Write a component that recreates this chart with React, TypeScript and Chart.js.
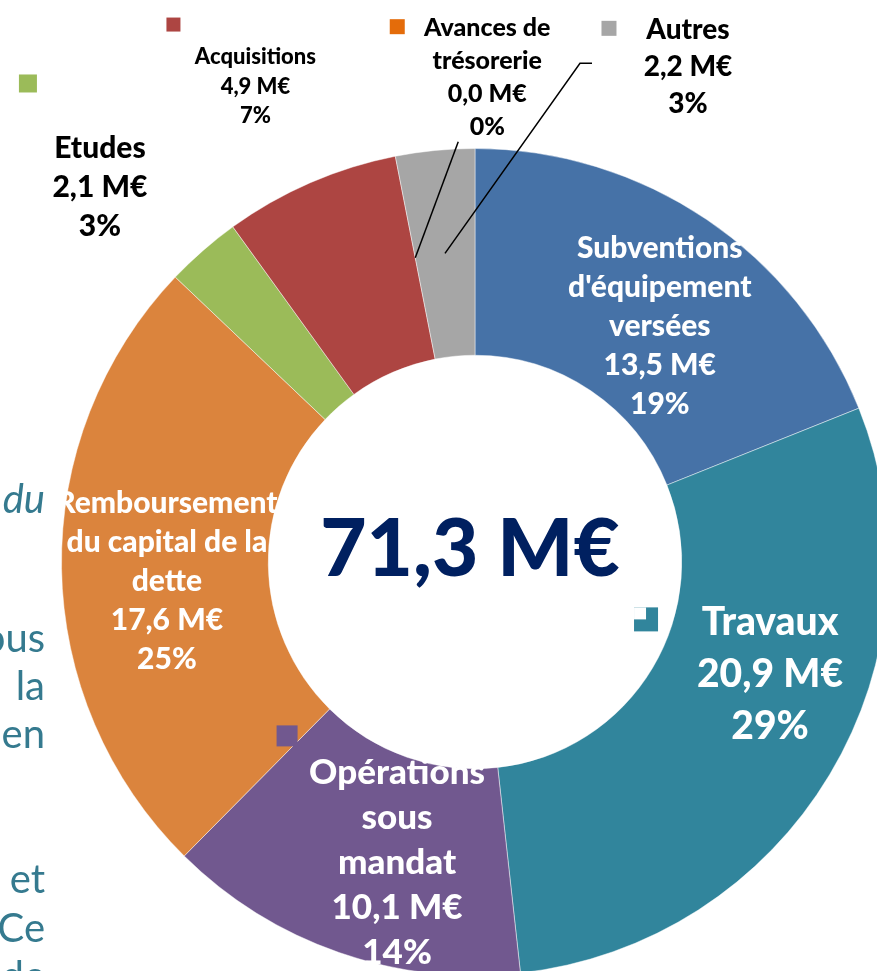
import React, { useEffect, useRef } from "react";
import { Chart, registerables } from "chart.js";

Chart.register(...registerables);

// ---- Data ----
const categories = [
  "Subventions d'équipement versées",
  "Travaux",
  "Opérations sous mandat",
  "Remboursement du capital de la dette",
  "Etudes",
  "Acquisitions",
  "Avances de trésorerie",
  "Autres",
];
const labelLines = [
  ["Subventions", "d'équipement", "versées"],
  ["Travaux"],
  ["Opérations", "sous", "mandat"],
  ["Remboursement", "du capital de la", "dette"],
  ["Etudes"],
  ["Acquisitions"],
  ["Avances de", "trésorerie"],
  ["Autres"],
];
const values = [13.5, 20.9, 10.1, 17.6, 2.1, 4.9, 0.0, 2.2];
const colors = ["#4672A7", "#31859C", "#71588F", "#DB843D", "#9BBB59", "#AD4542", "#E46C0A", "#A6A6A6"];
const unit = "M€";
// words of the page text partly visible behind the chart
const backgroundWords = ["du", "ous", "la", "en", "et", "Ce", "de"];
const backgroundItalic = [true, false, false, false, false, false, false];
const backgroundBaselines = [513, 652, 700, 748, 893, 942, 990];

// ---- Label styling (offsets relative to each arc's mid point) ----
const labelStyles = [
  { dx: 11, dy: 21, size: 30, lh: 39, color: "#ffffff", key: null },
  { dx: 29, dy: -47, size: 39, lh: 52, color: "#ffffff", key: { dx: -124, dy: -55, s: 24, notch: true } },
  { dx: 24, dy: 8, size: 35, lh: 45, color: "#ffffff", key: { dx: -110, dy: -127, s: 21 } },
  { dx: 2, dy: 15, size: 30, lh: 39, color: "#ffffff", key: null },
  { dx: -171, dy: -141, size: 30, lh: 39, color: "#000000", key: { dx: -72, dy: -104, s: 18 } },
  { dx: -96, dy: -191, size: 22, lh: 29.5, color: "#000000", key: { dx: -82, dy: -62, s: 14 } },
  { dx: 72, dy: -180, size: 25, lh: 33, color: "#000000", key: { dx: -90, dy: -51, s: 15 }, leader: [[-29, 64]] },
  { dx: 243, dy: -186, size: 28, lh: 37, color: "#000000", key: { dx: -79, dy: -39, s: 15 }, leader: [[-108, -4], [-96, -4]] },
];

const FONT = "Lato, 'Open Sans', sans-serif";

const fmt = (v: number) => v.toFixed(1).replace(".", ",");

export default function App() {
  const ref = useRef<HTMLCanvasElement | null>(null);

  useEffect(() => {
    if (!ref.current) return;
    const total = values.reduce((a, b) => a + b, 0);

    const backgroundPlugin = {
      id: "pageText",
      beforeDraw(chart: any) {
        const ctx = chart.ctx as CanvasRenderingContext2D;
        ctx.save();
        ctx.fillStyle = "#357A8F";
        ctx.textAlign = "right";
        ctx.textBaseline = "alphabetic";
        backgroundWords.forEach((w, i) => {
          ctx.font = `${backgroundItalic[i] ? "italic " : ""}400 40px ${FONT}`;
          ctx.fillText(w, 45, backgroundBaselines[i]);
        });
        ctx.restore();
      },
    };

    const labelPlugin = {
      id: "customLabels",
      afterDatasetsDraw(chart: any) {
        const ctx = chart.ctx as CanvasRenderingContext2D;
        const meta = chart.getDatasetMeta(0);
        ctx.save();
        meta.data.forEach((arc: any, i: number) => {
          const st = labelStyles[i];
          const p = arc.tooltipPosition(false);
          const cx = p.x + st.dx;
          const cy = p.y + st.dy;
          if (st.leader) {
            ctx.beginPath();
            ctx.strokeStyle = "#000";
            ctx.lineWidth = 1.5;
            ctx.moveTo(p.x, p.y);
            st.leader.forEach((pt: number[]) => ctx.lineTo(cx + pt[0], cy + pt[1]));
            ctx.stroke();
          }
          if (st.key) {
            const k = st.key;
            const kx = cx + k.dx - k.s / 2;
            const ky = cy + k.dy - k.s / 2;
            ctx.fillStyle = colors[i];
            ctx.fillRect(kx, ky, k.s, k.s);
            if (k.notch) {
              ctx.fillStyle = "#ffffff";
              ctx.fillRect(kx, ky, k.s / 2, k.s / 2);
            }
          }
          const v = values[i];
          const lines = [
            ...labelLines[i],
            `${fmt(v)} ${unit}`,
            `${Math.round((v / total) * 100)}%`,
          ];
          ctx.font = `900 ${st.size}px ${FONT}`;
          ctx.fillStyle = st.color;
          ctx.textAlign = "center";
          ctx.textBaseline = "middle";
          const n = lines.length;
          lines.forEach((ln, j) => {
            ctx.fillText(ln, cx, cy + (j - (n - 1) / 2) * st.lh);
          });
        });
        const c = meta.data[0];
        ctx.font = `900 80px ${FONT}`;
        ctx.fillStyle = "#002060";
        ctx.textAlign = "center";
        ctx.textBaseline = "middle";
        ctx.fillText(`${fmt(total)} ${unit}`, c.x - 5, c.y - 12);
        ctx.restore();
      },
    };

    const chart = new Chart(ref.current, {
      type: "doughnut",
      data: {
        labels: categories,
        datasets: [
          {
            data: values,
            backgroundColor: colors,
            borderColor: "rgba(255,255,255,0.45)",
            borderWidth: 1,
          },
        ],
      },
      options: {
        responsive: false,
        animation: false,
        cutout: "50%",
        layout: { padding: { left: 61, top: 148, right: 111, bottom: 124 } },
        plugins: {
          legend: { display: false },
          tooltip: { enabled: false },
        },
      },
      plugins: [backgroundPlugin, labelPlugin],
    });
    return () => chart.destroy();
  }, []);

  return (
    <div
      style={{
        position: "fixed",
        left: 0,
        top: 0,
        width: 877,
        height: 971,
        overflow: "hidden",
        background: "#ffffff",
      }}
    >
      <canvas ref={ref} width={1000} height={1100} style={{ position: "absolute", left: 0, top: 0 }} />
    </div>
  );
}
